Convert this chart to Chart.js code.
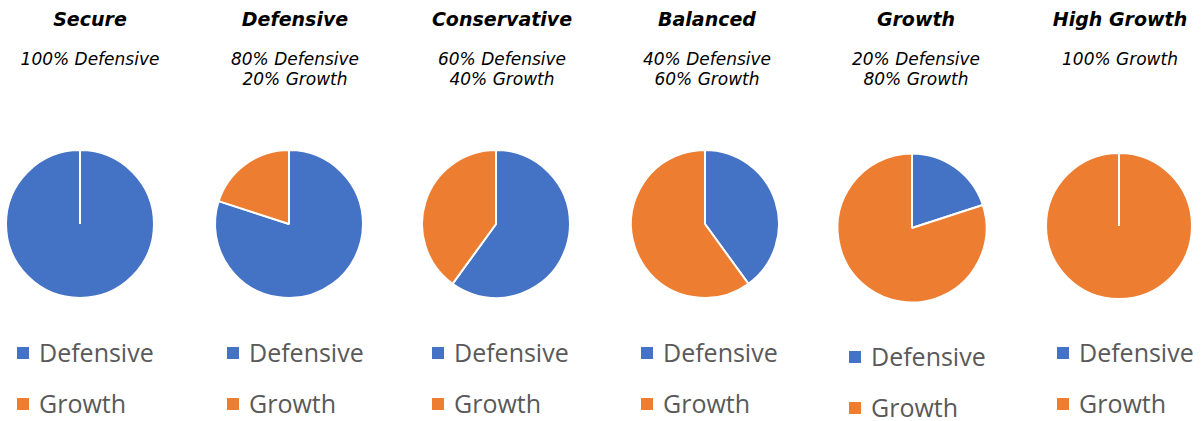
<!DOCTYPE html>
<html>
<head>
<meta charset="utf-8">
<script src="https://cdn.jsdelivr.net/npm/chart.js@4"></script>
<style>
  html, body { margin: 0; padding: 0; background: #fff; }
  #wrap { position: relative; width: 1201px; height: 421px; overflow: hidden; background: #fff; }
  .title { position: absolute; top: 8px; width: 220px; text-align: center; font-family: "DejaVu Sans", Verdana, sans-serif; font-weight: bold; font-style: italic; font-size: 19px; line-height: 22px; color: #000; white-space: nowrap; }
  .sub { position: absolute; top: 49px; width: 220px; text-align: center; font-family: "DejaVu Sans", Verdana, sans-serif; font-style: italic; font-size: 17px; line-height: 20px; color: #000; white-space: nowrap; }
  canvas.pie { position: absolute; }
  .lg-box { position: absolute; width: 12px; height: 12px; }
  .lg-text { position: absolute; font-family: "Open Sans", "Noto Sans", sans-serif; font-size: 25px; line-height: 32px; color: #595959; white-space: nowrap; }
</style>
</head>
<body>
<div id="wrap"></div>
<script>
// ---- data ----
const portfolios = ['Secure', 'Defensive', 'Conservative', 'Balanced', 'Growth', 'High Growth'];
const seriesLabels = ['Defensive', 'Growth'];
const defensiveShare = [100, 80, 60, 40, 20, 0];
const growthShare = [0, 20, 40, 60, 80, 100];
const seriesColors = ['#4472C4', '#ED7D31'];

// ---- layout (positions only) ----
const pieCx = [80, 289, 496, 705, 912, 1119];
const pieCy = [224, 224, 224, 224, 228, 226];
const pieR = [74, 74, 74, 74, 74.5, 73];
const textCx = [90, 295, 502, 707, 916, 1120];
const legendX = [17, 227, 432, 641, 849, 1057];
const legendDy = [0, 0, 0, 0, 4, 0];

const wrap = document.getElementById('wrap');

portfolios.forEach((name, i) => {
  const values = [defensiveShare[i], growthShare[i]];

  const t = document.createElement('div');
  t.className = 'title';
  t.style.left = (textCx[i] - 110) + 'px';
  t.textContent = name;
  wrap.appendChild(t);

  const s = document.createElement('div');
  s.className = 'sub';
  s.style.left = (textCx[i] - 110) + 'px';
  const lines = [];
  values.forEach((v, k) => { if (v > 0) lines.push(v + '% ' + seriesLabels[k]); });
  lines.forEach(l => { const d = document.createElement('div'); d.textContent = l; s.appendChild(d); });
  wrap.appendChild(s);

  const size = 170;
  const c = document.createElement('canvas');
  c.className = 'pie';
  c.width = size; c.height = size;
  c.style.width = size + 'px'; c.style.height = size + 'px';
  c.style.left = (pieCx[i] - size / 2) + 'px';
  c.style.top = (pieCy[i] - size / 2) + 'px';
  wrap.appendChild(c);

  new Chart(c, {
    type: 'pie',
    data: {
      labels: seriesLabels,
      datasets: [{
        data: values,
        backgroundColor: seriesColors,
        borderColor: '#ffffff',
        borderWidth: 2
      }]
    },
    options: {
      responsive: false,
      animation: false,
      radius: pieR[i],
      layout: { padding: 0 },
      plugins: { legend: { display: false }, tooltip: { enabled: false }, title: { display: false } },
      events: []
    }
  });

  seriesLabels.forEach((lab, k) => {
    const y0 = 347 + k * 51 + legendDy[i];
    const b = document.createElement('div');
    b.className = 'lg-box';
    b.style.left = legendX[i] + 'px';
    b.style.top = y0 + 'px';
    b.style.background = seriesColors[k];
    wrap.appendChild(b);
    const tx = document.createElement('div');
    tx.className = 'lg-text';
    tx.style.left = (legendX[i] + 22) + 'px';
    tx.style.top = (y0 - 11) + 'px';
    tx.textContent = lab;
    wrap.appendChild(tx);
  });
});
</script>
</body>
</html>
